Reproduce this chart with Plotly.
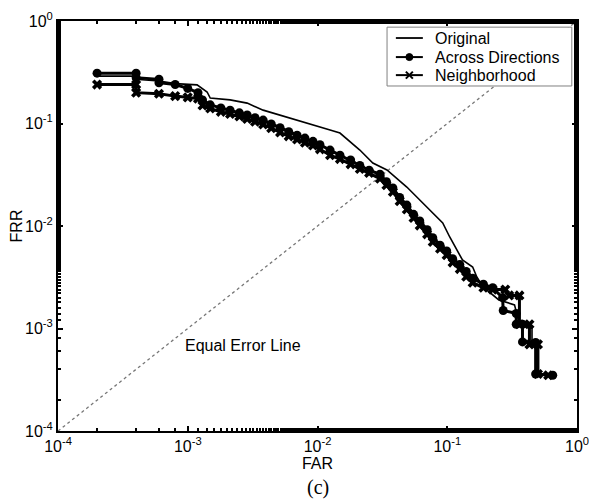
import plotly.graph_objects as go

# ---- data ----
orig_far = [2e-4, 4e-4, 4e-4, 6e-4, 8e-4, 1.18e-3, 1.41e-3, 1.49e-3, 2.12e-3, 2.87e-3,
            3.81e-3, 5.15e-3, 6.96e-3, 9.23e-3, 1.25e-2, 1.49e-2, 2.12e-2, 2.67e-2,
            3.43e-2, 4.88e-2, 6.14e-2, 7.73e-2, 9.23e-2, 1.045e-1, 1.18e-1, 1.31e-1,
            1.57e-1, 1.69e-1, 1.88e-1, 2.5e-1, 3.3e-1, 3.6e-1, 4.5e-1, 4.5e-1, 5.0e-1]
orig_frr = [0.29, 0.29, 0.27, 0.26, 0.245, 0.238, 0.203, 0.177, 0.17, 0.158,
            0.135, 0.121, 0.108, 0.0966, 0.0865, 0.0807, 0.0551, 0.0412,
            0.0352, 0.024, 0.0179, 0.0134, 0.0107, 0.00781, 0.00583, 0.00466,
            0.00398, 0.00318, 0.00256, 0.0019, 0.0017, 0.0011, 0.001, 7e-4, 7e-4]

across_far = [2e-4, 4e-4, 4e-4, 6e-4, 6e-4, 8e-4, 1e-3, 1.2e-3, 1.3e-3, 1.49e-3,
              1.8e-3, 2.12e-3, 2.5e-3, 2.87e-3, 3.3e-3, 3.81e-3, 4.4e-3, 5.15e-3,
              6e-3, 6.96e-3, 8e-3, 9.23e-3, 1.045e-2, 1.25e-2, 1.49e-2, 1.8e-2,
              2.12e-2, 2.5e-2, 3.03e-2, 3.4e-2, 3.81e-2, 4.3e-2, 4.88e-2, 5.5e-2,
              6.14e-2, 7e-2, 7.73e-2, 8.8e-2, 9.9e-2, 1.1e-1, 1.25e-1, 1.4e-1,
              1.57e-1, 1.9e-1, 2.24e-1, 2.67e-1, 2.7e-1, 3.4e-1, 3.4e-1, 3.8e-1,
              3.8e-1, 4.8e-1, 4.8e-1, 6.5e-1]
across_frr = [0.31, 0.31, 0.28, 0.27, 0.25, 0.24, 0.22, 0.2, 0.17, 0.152,
              0.142, 0.135, 0.127, 0.121, 0.114, 0.108, 0.099, 0.091,
              0.083, 0.077, 0.072, 0.067, 0.062, 0.055, 0.049, 0.044,
              0.039, 0.035, 0.032, 0.027, 0.0235, 0.019, 0.016, 0.013,
              0.0112, 0.0092, 0.0077, 0.0065, 0.0057, 0.0048, 0.0042, 0.0036,
              0.0031, 0.0027, 0.0025, 0.002, 0.0015, 0.0014, 0.0011, 0.0011,
              7.4e-4, 7.3e-4, 3.6e-4, 3.5e-4]

neigh_far = [2e-4, 4e-4, 4e-4, 6e-4, 8e-4, 1e-3, 1.2e-3, 1.3e-3, 1.49e-3, 1.8e-3,
             2.12e-3, 2.5e-3, 2.87e-3, 3.3e-3, 3.81e-3, 4.4e-3, 5.15e-3, 6e-3,
             6.96e-3, 8e-3, 9.23e-3, 1.045e-2, 1.25e-2, 1.49e-2, 1.8e-2, 2.12e-2,
             2.5e-2, 3.03e-2, 3.4e-2, 3.81e-2, 4.3e-2, 4.88e-2, 5.5e-2, 6.14e-2,
             7e-2, 7.73e-2, 8.8e-2, 9.9e-2, 1.1e-1, 1.25e-1, 1.4e-1, 1.57e-1,
             1.9e-1, 2.24e-1, 2.8e-1, 3.0e-1, 3.6e-1, 3.6e-1, 4.3e-1, 4.3e-1,
             5e-1, 5e-1, 6e-1]
neigh_frr = [0.24, 0.24, 0.2, 0.195, 0.185, 0.18, 0.175, 0.15, 0.14, 0.13,
             0.124, 0.117, 0.111, 0.104, 0.098, 0.09, 0.082, 0.075,
             0.07, 0.065, 0.061, 0.056, 0.049, 0.045, 0.04, 0.036,
             0.033, 0.029, 0.025, 0.0215, 0.0175, 0.0145, 0.012, 0.0101,
             0.0083, 0.007, 0.006, 0.0052, 0.0044, 0.0038, 0.0032, 0.0028,
             0.0025, 0.0024, 0.0024, 0.0021, 0.0021, 1.1e-3, 1.1e-3, 7e-4,
             7e-4, 3.6e-4, 3.5e-4]

series_names = ["Original", "Across Directions", "Neighborhood"]
eer_line = [1e-4, 1.0]
tick_vals = [1e-4, 1e-3, 1e-2, 1e-1, 1.0]
tick_text = ["10<sup>-4</sup>", "10<sup>-3</sup>", "10<sup>-2</sup>", "10<sup>-1</sup>", "10<sup>0</sup>"]

FONT = "Liberation Sans, Arial, sans-serif"

fig = go.Figure()
fig.add_trace(go.Scatter(x=eer_line, y=eer_line, mode="lines", showlegend=False,
                         line=dict(color="#777777", width=1.3, dash="dot"), hoverinfo="skip"))
fig.add_trace(go.Scatter(x=orig_far, y=orig_frr, mode="lines", name=series_names[0],
                         showlegend=False, line=dict(color="black", width=1.6)))
fig.add_trace(go.Scatter(x=across_far, y=across_frr, mode="lines+markers", name=series_names[1],
                         showlegend=False, line=dict(color="black", width=3),
                         marker=dict(symbol="circle", size=9, color="black")))
fig.add_trace(go.Scatter(x=neigh_far, y=neigh_frr, mode="lines+markers", name=series_names[2],
                         showlegend=False, line=dict(color="black", width=3),
                         marker=dict(symbol="x", size=9, color="black")))

axis_common = dict(type="log", range=[-4, 0], tickvals=tick_vals, ticktext=tick_text,
                   ticks="inside", ticklen=5, tickwidth=1.5, tickcolor="black",
                   showline=True, linecolor="black", linewidth=2, mirror="allticks",
                   showgrid=False, zeroline=False, automargin=False,
                   tickfont=dict(family=FONT, size=16, color="black"),
                   minor=dict(ticks="inside", ticklen=3, tickcolor="black", showgrid=False))

fig.update_xaxes(**axis_common, title=dict(text="FAR", font=dict(family=FONT, size=16, color="black"), standoff=0))
fig.update_yaxes(**axis_common,
                 title=dict(text="FRR", font=dict(family=FONT, size=16, color="black"), standoff=0))

fig.add_annotation(x=-3.035, y=-3.17, xref="x", yref="y", text="Equal Error Line",
                   showarrow=False, xanchor="left", yanchor="middle",
                   font=dict(family=FONT, size=16, color="black"))
fig.add_annotation(x=0.5, y=-0.139, xref="paper", yref="paper", text="(c)",
                   showarrow=False, xanchor="center", yanchor="middle",
                   font=dict(family="Liberation Serif, Times New Roman, serif", size=20, color="black"))

# ---- manual legend (box, line samples, markers, labels) ----
shapes = [dict(type="rect", xref="paper", yref="paper", x0=0.634, x1=0.990, y0=0.8415, y1=0.985,
               fillcolor="white", line=dict(color="#808080", width=1), layer="above")]
leg_y = [0.9585, 0.912, 0.868]
lx0, lx1, mx, tx = 0.651, 0.703, 0.677, 0.7225
for i, name in enumerate(series_names):
    shapes.append(dict(type="line", xref="paper", yref="paper", x0=lx0, x1=lx1, y0=leg_y[i], y1=leg_y[i],
                       line=dict(color="black", width=1.8 if i == 0 else 2), layer="above"))
    fig.add_annotation(x=tx, y=leg_y[i], xref="paper", yref="paper", text=name, showarrow=False,
                       xanchor="left", yanchor="middle", font=dict(family=FONT, size=16, color="black"))
# circle marker
shapes.append(dict(type="circle", xref="paper", yref="paper", xsizemode="pixel", ysizemode="pixel",
                   xanchor=mx, yanchor=leg_y[1], x0=-3.5, x1=3.5, y0=-3.5, y1=3.5,
                   fillcolor="black", line=dict(color="black", width=1), layer="above"))
# x marker
for sgn in (1, -1):
    shapes.append(dict(type="line", xref="paper", yref="paper", xsizemode="pixel", ysizemode="pixel",
                       xanchor=mx, yanchor=leg_y[2], x0=-3.5, x1=3.5, y0=-3.5 * sgn, y1=3.5 * sgn,
                       line=dict(color="black", width=2), layer="above"))

fig.update_layout(
    width=589, height=496,
    margin=dict(l=50, r=20, t=13, b=73, autoexpand=False),
    paper_bgcolor="white", plot_bgcolor="white",
    font=dict(family=FONT, color="black"),
    showlegend=False,
    shapes=shapes,
)

fig.write_html("out.html")
